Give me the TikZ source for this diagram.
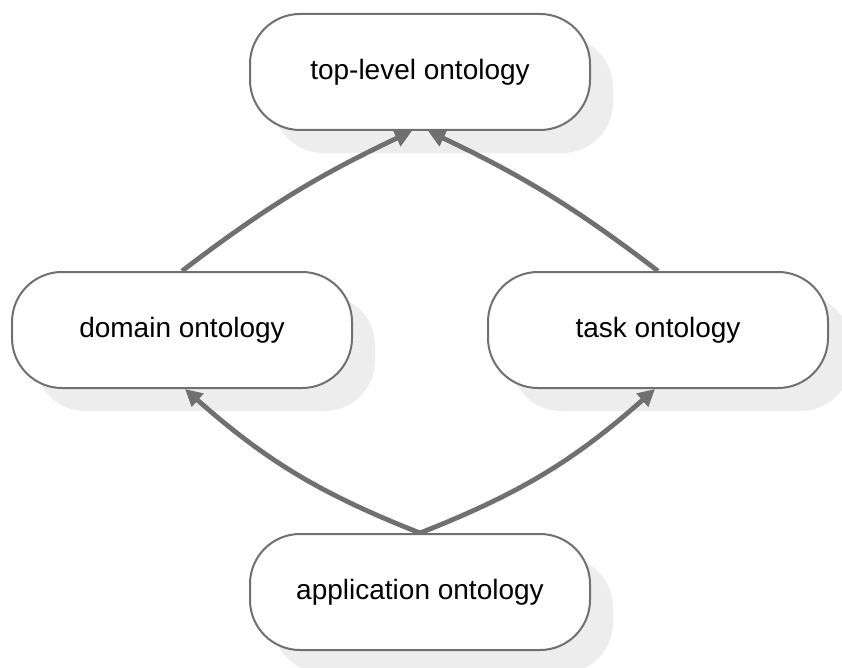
\documentclass[tikz,border=0pt]{standalone}
\usepackage{fontspec}
\setmainfont{Liberation Sans}
\usetikzlibrary{shapes.geometric, arrows.meta, positioning, shadows}
\usepackage{xcolor}
\definecolor{linegray}{HTML}{707070}
\definecolor{shadegray}{HTML}{EDEDED}

\begin{document}
\begin{tikzpicture}[
        x=1pt, y=1pt,
        onto/.style={rectangle, draw=linegray, line width=2pt, fill=white, rounded corners=50pt, minimum width=340pt, minimum height=116pt, font=\fontsize{28}{33}\selectfont,
            drop shadow={shadow xshift=23pt, shadow yshift=-23pt, fill=shadegray, opacity=1}},
        arrow/.style={draw=linegray, line width=4.8pt, -{Triangle[length=17pt, width=17pt]}}
    ]
        \useasboundingbox (0,0) rectangle (842,-668);

        \node [onto] (top) at (420,-72) {top-level ontology};
        \node [onto, below=140pt of top, xshift=-238pt] (domain) {domain ontology};
        \node [onto, below=140pt of top, xshift=238pt] (task) {task ontology};
        \node [onto, below=144pt of domain, xshift=238pt] (app) {application ontology};

        \draw [arrow] (domain.north) to[bend left=6] ([xshift=-8pt]top.south);
        \draw [arrow] (task.north) to[bend right=6] ([xshift=8pt]top.south);
        \draw [arrow] (app.north) to[bend left=10] ([xshift=3pt]domain.south);
        \draw [arrow] (app.north) to[bend right=10] ([xshift=-3pt]task.south);

    \end{tikzpicture}
\end{document}
